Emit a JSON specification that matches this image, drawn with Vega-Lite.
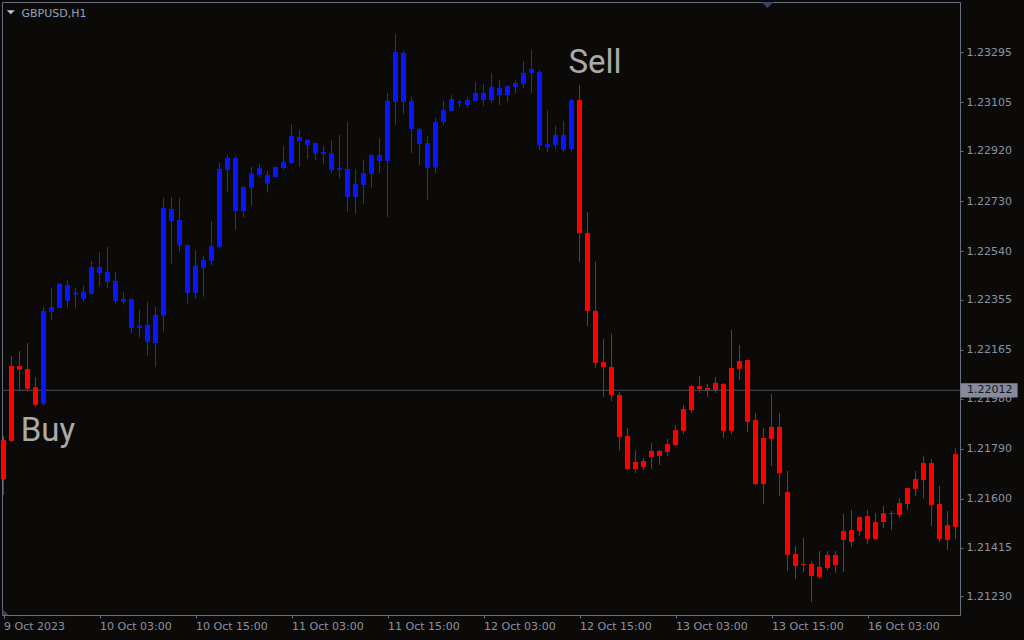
{
  "$schema": "https://vega.github.io/schema/vega-lite/v6.json",
  "width": 958,
  "height": 613,
  "autosize": {"type": "none"},
  "padding": {"left": 2, "top": 2, "right": 64, "bottom": 25},
  "background": "#0c0a08",
  "config": {
    "view": {"stroke": "#68707f", "strokeWidth": 1, "fill": "#0c0a08"},
    "font": "DejaVu Sans",
    "axis": {
      "labelFont": "DejaVu Sans", "labelFontSize": 11, "labelColor": "#8893a6",
      "tickSize": 3, "tickColor": "#68707f", "domain": false, "grid": false,
      "labelOverlap": false, "labelFlush": false, "labelBound": false, "zindex": 0
    },
    "axisX": {
      "labelAlign": "left", "labelBaseline": "top", "labelPadding": 2,
      "labelExpr": "['9 Oct 2023','10 Oct 03:00','10 Oct 15:00','11 Oct 03:00','11 Oct 15:00','12 Oct 03:00','12 Oct 15:00','13 Oct 03:00','13 Oct 15:00','16 Oct 03:00'][round(datum.value/12)]"
    },
    "axisY": {"labelPadding": 3, "labelBaseline": "middle", "format": ".5f"}
  },
  "datasets": {
    "candles": [
      {"i":0,"o":1.21675,"h":1.21839,"l":1.21615,"c":1.21823,"t":"sell"},
      {"i":1,"o":1.21820,"h":1.22142,"l":1.21816,"c":1.22104,"t":"sell"},
      {"i":2,"o":1.22104,"h":1.22161,"l":1.22013,"c":1.22090,"t":"sell"},
      {"i":3,"o":1.22093,"h":1.22191,"l":1.22007,"c":1.22018,"t":"sell"},
      {"i":4,"o":1.22024,"h":1.22062,"l":1.21951,"c":1.21957,"t":"sell"},
      {"i":5,"o":1.21961,"h":1.22327,"l":1.21956,"c":1.22313,"t":"buy"},
      {"i":6,"o":1.22310,"h":1.22400,"l":1.22279,"c":1.22328,"t":"buy"},
      {"i":7,"o":1.22325,"h":1.22418,"l":1.22323,"c":1.22416,"t":"buy"},
      {"i":8,"o":1.22411,"h":1.22430,"l":1.22325,"c":1.22351,"t":"buy"},
      {"i":9,"o":1.22375,"h":1.22400,"l":1.22322,"c":1.22382,"t":"buy"},
      {"i":10,"o":1.22386,"h":1.22408,"l":1.22347,"c":1.22358,"t":"buy"},
      {"i":11,"o":1.22378,"h":1.22503,"l":1.22376,"c":1.22480,"t":"buy"},
      {"i":12,"o":1.22480,"h":1.22537,"l":1.22409,"c":1.22457,"t":"buy"},
      {"i":13,"o":1.22461,"h":1.22556,"l":1.22401,"c":1.22423,"t":"buy"},
      {"i":14,"o":1.22427,"h":1.22461,"l":1.22341,"c":1.22351,"t":"buy"},
      {"i":15,"o":1.22347,"h":1.22385,"l":1.22337,"c":1.22358,"t":"buy"},
      {"i":16,"o":1.22358,"h":1.22360,"l":1.22229,"c":1.22248,"t":"buy"},
      {"i":17,"o":1.22249,"h":1.22317,"l":1.22212,"c":1.22257,"t":"buy"},
      {"i":18,"o":1.22260,"h":1.22347,"l":1.22142,"c":1.22196,"t":"buy"},
      {"i":19,"o":1.22191,"h":1.22328,"l":1.22100,"c":1.22298,"t":"buy"},
      {"i":20,"o":1.22295,"h":1.22742,"l":1.22234,"c":1.22704,"t":"buy"},
      {"i":21,"o":1.22700,"h":1.22745,"l":1.22492,"c":1.22654,"t":"buy"},
      {"i":22,"o":1.22658,"h":1.22742,"l":1.22538,"c":1.22561,"t":"buy"},
      {"i":23,"o":1.22563,"h":1.22565,"l":1.22341,"c":1.22381,"t":"buy"},
      {"i":24,"o":1.22381,"h":1.22544,"l":1.22360,"c":1.22484,"t":"buy"},
      {"i":25,"o":1.22477,"h":1.22522,"l":1.22367,"c":1.22506,"t":"buy"},
      {"i":26,"o":1.22503,"h":1.22654,"l":1.22487,"c":1.22559,"t":"buy"},
      {"i":27,"o":1.22556,"h":1.22874,"l":1.22552,"c":1.22852,"t":"buy"},
      {"i":28,"o":1.22849,"h":1.22905,"l":1.22765,"c":1.22893,"t":"buy"},
      {"i":29,"o":1.22893,"h":1.22901,"l":1.22621,"c":1.22692,"t":"buy"},
      {"i":30,"o":1.22692,"h":1.22787,"l":1.22669,"c":1.22783,"t":"buy"},
      {"i":31,"o":1.22781,"h":1.22859,"l":1.22712,"c":1.22834,"t":"buy"},
      {"i":32,"o":1.22829,"h":1.22871,"l":1.22821,"c":1.22855,"t":"buy"},
      {"i":33,"o":1.22829,"h":1.22844,"l":1.22762,"c":1.22796,"t":"buy"},
      {"i":34,"o":1.22821,"h":1.22860,"l":1.22820,"c":1.22859,"t":"buy"},
      {"i":35,"o":1.22855,"h":1.22939,"l":1.22848,"c":1.22878,"t":"buy"},
      {"i":36,"o":1.22874,"h":1.23022,"l":1.22871,"c":1.22977,"t":"buy"},
      {"i":37,"o":1.22973,"h":1.23000,"l":1.22859,"c":1.22958,"t":"buy"},
      {"i":38,"o":1.22962,"h":1.22965,"l":1.22890,"c":1.22943,"t":"buy"},
      {"i":39,"o":1.22950,"h":1.22951,"l":1.22886,"c":1.22910,"t":"buy"},
      {"i":40,"o":1.22908,"h":1.22939,"l":1.22871,"c":1.22916,"t":"buy"},
      {"i":41,"o":1.22912,"h":1.22962,"l":1.22836,"c":1.22848,"t":"buy"},
      {"i":42,"o":1.22848,"h":1.22981,"l":1.22817,"c":1.22855,"t":"buy"},
      {"i":43,"o":1.22852,"h":1.23030,"l":1.22688,"c":1.22745,"t":"buy"},
      {"i":44,"o":1.22745,"h":1.22852,"l":1.22681,"c":1.22795,"t":"buy"},
      {"i":45,"o":1.22791,"h":1.22886,"l":1.22719,"c":1.22836,"t":"buy"},
      {"i":46,"o":1.22833,"h":1.22907,"l":1.22779,"c":1.22905,"t":"buy"},
      {"i":47,"o":1.22905,"h":1.22969,"l":1.22836,"c":1.22882,"t":"buy"},
      {"i":48,"o":1.22882,"h":1.23140,"l":1.22669,"c":1.23110,"t":"buy"},
      {"i":49,"o":1.23106,"h":1.23364,"l":1.23019,"c":1.23295,"t":"buy"},
      {"i":50,"o":1.23292,"h":1.23299,"l":1.23060,"c":1.23106,"t":"buy"},
      {"i":51,"o":1.23110,"h":1.23125,"l":1.22912,"c":1.23003,"t":"buy"},
      {"i":52,"o":1.23003,"h":1.23007,"l":1.22867,"c":1.22946,"t":"buy"},
      {"i":53,"o":1.22950,"h":1.22977,"l":1.22734,"c":1.22855,"t":"buy"},
      {"i":54,"o":1.22857,"h":1.23045,"l":1.22836,"c":1.23030,"t":"buy"},
      {"i":55,"o":1.23030,"h":1.23110,"l":1.23019,"c":1.23075,"t":"buy"},
      {"i":56,"o":1.23072,"h":1.23132,"l":1.23070,"c":1.23117,"t":"buy"},
      {"i":57,"o":1.23106,"h":1.23113,"l":1.23087,"c":1.23102,"t":"buy"},
      {"i":58,"o":1.23094,"h":1.23125,"l":1.23083,"c":1.23113,"t":"buy"},
      {"i":59,"o":1.23110,"h":1.23182,"l":1.23108,"c":1.23140,"t":"buy"},
      {"i":60,"o":1.23140,"h":1.23174,"l":1.23091,"c":1.23113,"t":"buy"},
      {"i":61,"o":1.23113,"h":1.23216,"l":1.23102,"c":1.23163,"t":"buy"},
      {"i":62,"o":1.23159,"h":1.23189,"l":1.23094,"c":1.23132,"t":"buy"},
      {"i":63,"o":1.23132,"h":1.23168,"l":1.23106,"c":1.23166,"t":"buy"},
      {"i":64,"o":1.23163,"h":1.23189,"l":1.23140,"c":1.23178,"t":"buy"},
      {"i":65,"o":1.23175,"h":1.23261,"l":1.23159,"c":1.23216,"t":"buy"},
      {"i":66,"o":1.23216,"h":1.23303,"l":1.23140,"c":1.23231,"t":"buy"},
      {"i":67,"o":1.23220,"h":1.23227,"l":1.22924,"c":1.22940,"t":"buy"},
      {"i":68,"o":1.22946,"h":1.23075,"l":1.22916,"c":1.22935,"t":"buy"},
      {"i":69,"o":1.22943,"h":1.23015,"l":1.22927,"c":1.22981,"t":"buy"},
      {"i":70,"o":1.22981,"h":1.23034,"l":1.22916,"c":1.22924,"t":"buy"},
      {"i":71,"o":1.22927,"h":1.23117,"l":1.22916,"c":1.23113,"t":"buy"},
      {"i":72,"o":1.23113,"h":1.23170,"l":1.22499,"c":1.22609,"t":"sell"},
      {"i":73,"o":1.22609,"h":1.22688,"l":1.22256,"c":1.22313,"t":"sell"},
      {"i":74,"o":1.22313,"h":1.22499,"l":1.22097,"c":1.22116,"t":"sell"},
      {"i":75,"o":1.22119,"h":1.22207,"l":1.21987,"c":1.22100,"t":"sell"},
      {"i":76,"o":1.22100,"h":1.22226,"l":1.21971,"c":1.21994,"t":"sell"},
      {"i":77,"o":1.21994,"h":1.22006,"l":1.21785,"c":1.21835,"t":"sell"},
      {"i":78,"o":1.21839,"h":1.21869,"l":1.21710,"c":1.21713,"t":"sell"},
      {"i":79,"o":1.21713,"h":1.21785,"l":1.21698,"c":1.21740,"t":"sell"},
      {"i":80,"o":1.21744,"h":1.21755,"l":1.21710,"c":1.21721,"t":"sell"},
      {"i":81,"o":1.21759,"h":1.21812,"l":1.21713,"c":1.21782,"t":"sell"},
      {"i":82,"o":1.21782,"h":1.21785,"l":1.21729,"c":1.21763,"t":"sell"},
      {"i":83,"o":1.21778,"h":1.21827,"l":1.21763,"c":1.21808,"t":"sell"},
      {"i":84,"o":1.21804,"h":1.21880,"l":1.21802,"c":1.21861,"t":"sell"},
      {"i":85,"o":1.21858,"h":1.21956,"l":1.21846,"c":1.21941,"t":"sell"},
      {"i":86,"o":1.21937,"h":1.22032,"l":1.21926,"c":1.22028,"t":"sell"},
      {"i":87,"o":1.22028,"h":1.22066,"l":1.22002,"c":1.22017,"t":"sell"},
      {"i":88,"o":1.22021,"h":1.22036,"l":1.21987,"c":1.22013,"t":"sell"},
      {"i":89,"o":1.22013,"h":1.22062,"l":1.22002,"c":1.22040,"t":"sell"},
      {"i":90,"o":1.22036,"h":1.22040,"l":1.21831,"c":1.21858,"t":"sell"},
      {"i":91,"o":1.21858,"h":1.22241,"l":1.21846,"c":1.22097,"t":"sell"},
      {"i":92,"o":1.22093,"h":1.22184,"l":1.22051,"c":1.22123,"t":"sell"},
      {"i":93,"o":1.22127,"h":1.22129,"l":1.21854,"c":1.21892,"t":"sell"},
      {"i":94,"o":1.21899,"h":1.21926,"l":1.21654,"c":1.21656,"t":"sell"},
      {"i":95,"o":1.21656,"h":1.21869,"l":1.21581,"c":1.21831,"t":"sell"},
      {"i":96,"o":1.21827,"h":1.21998,"l":1.21725,"c":1.21873,"t":"sell"},
      {"i":97,"o":1.21873,"h":1.21926,"l":1.21611,"c":1.21698,"t":"sell"},
      {"i":98,"o":1.21626,"h":1.21706,"l":1.21326,"c":1.21387,"t":"sell"},
      {"i":99,"o":1.21391,"h":1.21421,"l":1.21296,"c":1.21345,"t":"sell"},
      {"i":100,"o":1.21349,"h":1.21452,"l":1.21323,"c":1.21353,"t":"sell"},
      {"i":101,"o":1.21353,"h":1.21364,"l":1.21209,"c":1.21307,"t":"sell"},
      {"i":102,"o":1.21304,"h":1.21402,"l":1.21296,"c":1.21342,"t":"sell"},
      {"i":103,"o":1.21338,"h":1.21402,"l":1.21330,"c":1.21387,"t":"sell"},
      {"i":104,"o":1.21387,"h":1.21402,"l":1.21319,"c":1.21349,"t":"sell"},
      {"i":105,"o":1.21444,"h":1.21543,"l":1.21323,"c":1.21478,"t":"sell"},
      {"i":106,"o":1.21482,"h":1.21558,"l":1.21417,"c":1.21436,"t":"sell"},
      {"i":107,"o":1.21478,"h":1.21533,"l":1.21459,"c":1.21531,"t":"sell"},
      {"i":108,"o":1.21535,"h":1.21558,"l":1.21429,"c":1.21448,"t":"sell"},
      {"i":109,"o":1.21448,"h":1.21546,"l":1.21446,"c":1.21512,"t":"sell"},
      {"i":110,"o":1.21512,"h":1.21573,"l":1.21490,"c":1.21546,"t":"sell"},
      {"i":111,"o":1.21546,"h":1.21554,"l":1.21482,"c":1.21543,"t":"sell"},
      {"i":112,"o":1.21539,"h":1.21603,"l":1.21528,"c":1.21584,"t":"sell"},
      {"i":113,"o":1.21581,"h":1.21643,"l":1.21558,"c":1.21641,"t":"sell"},
      {"i":114,"o":1.21638,"h":1.21706,"l":1.21611,"c":1.21675,"t":"sell"},
      {"i":115,"o":1.21672,"h":1.21763,"l":1.21603,"c":1.21736,"t":"sell"},
      {"i":116,"o":1.21736,"h":1.21751,"l":1.21497,"c":1.21577,"t":"sell"},
      {"i":117,"o":1.21581,"h":1.21649,"l":1.21436,"c":1.21448,"t":"sell"},
      {"i":118,"o":1.21444,"h":1.21554,"l":1.21406,"c":1.21501,"t":"sell"},
      {"i":119,"o":1.21493,"h":1.21793,"l":1.21448,"c":1.21770,"t":"sell"}
    ]
  },
  "layer": [
    {
      "data": {"values": [{"p": 1.22012}]},
      "mark": {"type": "rule", "color": "#4b4e5e", "strokeWidth": 1},
      "encoding": {
        "y": {"field": "p", "type": "quantitative", "title": null,
          "scale": {"domain": [1.211595, 1.234851], "nice": false, "zero": false, "padding": 0},
          "axis": {"orient": "right", "title": null, "values": [1.23295, 1.23105, 1.2292, 1.2273, 1.2254, 1.22355, 1.22165, 1.2198, 1.2179, 1.216, 1.21415, 1.2123]}}
      }
    },
    {
      "data": {"name": "candles"},
      "mark": {"type": "rule", "strokeWidth": 1},
      "encoding": {
        "x": {"field": "i", "type": "quantitative", "title": null,
          "scale": {"domain": [-0.1875, 119.5625], "nice": false, "zero": false, "padding": 0},
          "axis": {"orient": "bottom", "title": null, "values": [0, 12, 24, 36, 48, 60, 72, 84, 96, 108]}},
        "y": {"field": "l", "type": "quantitative", "title": null,
          "scale": {"domain": [1.211595, 1.234851], "nice": false, "zero": false, "padding": 0},
          "axis": {"orient": "right", "title": null, "values": [1.23295, 1.23105, 1.2292, 1.2273, 1.2254, 1.22355, 1.22165, 1.2198, 1.2179, 1.216, 1.21415, 1.2123]}},
        "y2": {"field": "h"},
        "stroke": {"field": "t", "type": "nominal", "scale": {"domain": ["buy", "sell"], "range": ["#2a1ee6", "#f00000"]}, "legend": null}
      }
    },
    {
      "data": {"name": "candles"},
      "mark": {"type": "bar", "size": 5},
      "encoding": {
        "x": {"field": "i", "type": "quantitative", "title": null,
          "scale": {"domain": [-0.1875, 119.5625], "nice": false, "zero": false, "padding": 0},
          "axis": {"orient": "bottom", "title": null, "values": [0, 12, 24, 36, 48, 60, 72, 84, 96, 108]}},
        "y": {"field": "o", "type": "quantitative", "title": null,
          "scale": {"domain": [1.211595, 1.234851], "nice": false, "zero": false, "padding": 0},
          "axis": {"orient": "right", "title": null, "values": [1.23295, 1.23105, 1.2292, 1.2273, 1.2254, 1.22355, 1.22165, 1.2198, 1.2179, 1.216, 1.21415, 1.2123]}},
        "y2": {"field": "c"},
        "color": {"field": "t", "type": "nominal", "scale": {"domain": ["buy", "sell"], "range": ["#0816ff", "#ff0000"]}, "legend": null}
      }
    },
    {
      "data": {"values": [{"label": "Buy", "i": 2.15, "p": 1.21820}, {"label": "Sell", "i": 70.62, "p": 1.23215}]},
      "mark": {"type": "text", "font": "Roboto", "fontSize": 33, "align": "left", "baseline": "alphabetic", "color": "#aaaaaa"},
      "encoding": {
        "x": {"field": "i", "type": "quantitative", "title": null,
          "scale": {"domain": [-0.1875, 119.5625], "nice": false, "zero": false, "padding": 0},
          "axis": {"orient": "bottom", "title": null, "values": [0, 12, 24, 36, 48, 60, 72, 84, 96, 108]}},
        "y": {"field": "p", "type": "quantitative", "title": null,
          "scale": {"domain": [1.211595, 1.234851], "nice": false, "zero": false, "padding": 0},
          "axis": {"orient": "right", "title": null, "values": [1.23295, 1.23105, 1.2292, 1.2273, 1.2254, 1.22355, 1.22165, 1.2198, 1.2179, 1.216, 1.21415, 1.2123]}},
        "text": {"field": "label"}
      }
    },
    {
      "data": {"values": [{"label": "GBPUSD,H1", "i": 2.25, "p": 1.234293}]},
      "mark": {"type": "text", "font": "DejaVu Sans", "fontSize": 11, "align": "left", "baseline": "alphabetic", "color": "#93a2b8"},
      "encoding": {
        "x": {"field": "i", "type": "quantitative", "title": null,
          "scale": {"domain": [-0.1875, 119.5625], "nice": false, "zero": false, "padding": 0},
          "axis": {"orient": "bottom", "title": null, "values": [0, 12, 24, 36, 48, 60, 72, 84, 96, 108]}},
        "y": {"field": "p", "type": "quantitative", "title": null,
          "scale": {"domain": [1.211595, 1.234851], "nice": false, "zero": false, "padding": 0},
          "axis": {"orient": "right", "title": null, "values": [1.23295, 1.23105, 1.2292, 1.2273, 1.2254, 1.22355, 1.22165, 1.2198, 1.2179, 1.216, 1.21415, 1.2123]}},
        "text": {"field": "label"}
      }
    },
    {
      "data": {"values": [
        {"what": "menu", "i": 0.91, "p": 1.234464},
        {"what": "shift", "i": 95.5, "p": 1.234737}
      ]},
      "mark": {"type": "point", "filled": true, "opacity": 1, "shape": "M -1 -0.5 L 1 -0.5 L 0 0.5 Z", "strokeWidth": 0},
      "encoding": {
        "x": {"field": "i", "type": "quantitative", "title": null,
          "scale": {"domain": [-0.1875, 119.5625], "nice": false, "zero": false, "padding": 0},
          "axis": {"orient": "bottom", "title": null, "values": [0, 12, 24, 36, 48, 60, 72, 84, 96, 108]}},
        "y": {"field": "p", "type": "quantitative", "title": null,
          "scale": {"domain": [1.211595, 1.234851], "nice": false, "zero": false, "padding": 0},
          "axis": {"orient": "right", "title": null, "values": [1.23295, 1.23105, 1.2292, 1.2273, 1.2254, 1.22355, 1.22165, 1.2198, 1.2179, 1.216, 1.21415, 1.2123]}},
        "fill": {"field": "what", "type": "nominal", "scale": {"domain": ["menu", "shift"], "range": ["#c4c8d0", "#3c4466"]}, "legend": null},
        "size": {"field": "what", "type": "nominal", "scale": {"domain": ["menu", "shift"], "range": [64, 144]}, "legend": null}
      }
    },
    {
      "data": {"values": [{"i": 0.25, "p": 1.211708}]},
      "mark": {"type": "point", "filled": true, "opacity": 1, "shape": "M -1 -1 L 1 1 L -1 1 Z", "size": 36, "color": "#3a3f5c", "strokeWidth": 0},
      "encoding": {
        "x": {"field": "i", "type": "quantitative", "title": null,
          "scale": {"domain": [-0.1875, 119.5625], "nice": false, "zero": false, "padding": 0},
          "axis": {"orient": "bottom", "title": null, "values": [0, 12, 24, 36, 48, 60, 72, 84, 96, 108]}},
        "y": {"field": "p", "type": "quantitative", "title": null,
          "scale": {"domain": [1.211595, 1.234851], "nice": false, "zero": false, "padding": 0},
          "axis": {"orient": "right", "title": null, "values": [1.23295, 1.23105, 1.2292, 1.2273, 1.2254, 1.22355, 1.22165, 1.2198, 1.2179, 1.216, 1.21415, 1.2123]}}
      }
    },
    {
      "data": {"values": [{"p": 1.22012, "label": "1.22012", "bx": 123.2, "tx": 120.45}]},
      "mark": {"type": "point", "filled": true, "opacity": 1, "shape": "M -1 -0.25 L 1 -0.25 L 1 0.25 L -1 0.25 Z", "size": 3249, "color": "#868b9b", "strokeWidth": 0},
      "encoding": {
        "x": {"field": "bx", "type": "quantitative", "title": null,
          "scale": {"domain": [-0.1875, 119.5625], "nice": false, "zero": false, "padding": 0},
          "axis": {"orient": "bottom", "title": null, "values": [0, 12, 24, 36, 48, 60, 72, 84, 96, 108]}},
        "y": {"field": "p", "type": "quantitative", "title": null,
          "scale": {"domain": [1.211595, 1.234851], "nice": false, "zero": false, "padding": 0},
          "axis": {"orient": "right", "title": null, "values": [1.23295, 1.23105, 1.2292, 1.2273, 1.2254, 1.22355, 1.22165, 1.2198, 1.2179, 1.216, 1.21415, 1.2123]}}
      }
    },
    {
      "data": {"values": [{"p": 1.22012, "label": "1.22012", "bx": 123.2, "tx": 120.45}]},
      "mark": {"type": "text", "font": "DejaVu Sans", "fontSize": 11, "align": "left", "baseline": "middle", "color": "#15151f"},
      "encoding": {
        "x": {"field": "tx", "type": "quantitative", "title": null,
          "scale": {"domain": [-0.1875, 119.5625], "nice": false, "zero": false, "padding": 0},
          "axis": {"orient": "bottom", "title": null, "values": [0, 12, 24, 36, 48, 60, 72, 84, 96, 108]}},
        "y": {"field": "p", "type": "quantitative", "title": null,
          "scale": {"domain": [1.211595, 1.234851], "nice": false, "zero": false, "padding": 0},
          "axis": {"orient": "right", "title": null, "values": [1.23295, 1.23105, 1.2292, 1.2273, 1.2254, 1.22355, 1.22165, 1.2198, 1.2179, 1.216, 1.21415, 1.2123]}},
        "text": {"field": "label"}
      }
    }
  ]
}
